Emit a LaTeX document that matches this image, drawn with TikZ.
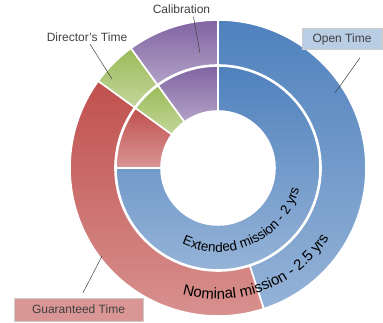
\documentclass[tikz,border=0pt]{standalone}
\usepackage{fontspec}
\setmainfont{Liberation Sans}
\usetikzlibrary{decorations.text}
\definecolor{blueA}{HTML}{4F81BD}
\definecolor{blueB}{HTML}{95B3D7}
\definecolor{redA}{HTML}{C0504D}
\definecolor{redB}{HTML}{D99694}
\definecolor{greenA}{HTML}{9BBB59}
\definecolor{greenB}{HTML}{C3D69B}
\definecolor{purpleA}{HTML}{8064A2}
\definecolor{purpleB}{HTML}{B3A2C7}
\definecolor{labelgray}{HTML}{404040}
\definecolor{tagblue}{HTML}{B9CDE5}

\begin{document}
\begin{tikzpicture}[x=1pt, y=1pt,
	seg/.style={draw=white, line width=1.6pt, line join=round},
	legend/.style={text=labelgray, font=\fontsize{12}{14}\selectfont, inner sep=2pt},
	tag/.style={legend, draw=black!20, line width=0.5pt, minimum height=21pt, inner xsep=6pt},
	leader/.style={draw=labelgray, line width=0.5pt},]
\useasboundingbox (-218,-155) rectangle (165,168);
\foreach \s/\e/\ri/\ro/\ct/\cb in {
	90/-72/103/148/blueA/blueB, -72/-216/103/148/redA/redB,
	-216/-234/103/148/greenA/greenB, -234/-270/103/148/purpleA/purpleB,
	90/-180/57/102/blueA/blueB, -180/-216/57/102/redA/redB,
	-216/-234/57/102/greenA/greenB, -234/-270/57/102/purpleA/purpleB}
	\path[seg, top color=\ct, bottom color=\cb] (\s:\ro) arc[start angle=\s, end angle=\e, radius=\ro]
		-- (\e:\ri) arc[start angle=\e, end angle=\s, radius=\ri] -- cycle;
\path[decorate, decoration={text along path, text align=center,
	text={|\fontsize{13.5}{15}\selectfont|Extended mission - 2 yrs}}]
	(-120:84) arc[start angle=-120, end angle=-10, radius=84];
\path[decorate, decoration={text along path, text align=center,
	text={|\fontsize{15}{17}\selectfont|Nominal mission - 2.5 yrs}}]
	(-125:131) arc[start angle=-125, end angle=-13, radius=131];
\node[legend] (calib) at (-36.5,159) {Calibration};
\node[legend] (director) at (-131,130.5) {Director's Time};
\node[tag, fill=tagblue, minimum width=80pt] (open) at (124,129) {Open Time};
\node[tag, fill=redB, minimum width=129pt, minimum height=23pt] (guaranteed) at (-139.5,-141.5) {Guaranteed Time};
\coordinate (calibpt) at (-18,115);
\coordinate (directorpt) at (-106,89);
\coordinate (openpt) at (117,75);
\coordinate (guaranteedpt) at (-116,-88);
\draw[leader] ([xshift=12pt,yshift=-1pt]calib.south) -- (calibpt);
\draw[leader] ([xshift=3pt]director.south) -- (directorpt);
\draw[leader] ([xshift=18pt,yshift=-8pt]open.south) -- (openpt);
\draw[leader] ([xshift=4.5pt,yshift=5pt]guaranteed.north) -- (guaranteedpt);
\end{tikzpicture}
\end{document}
